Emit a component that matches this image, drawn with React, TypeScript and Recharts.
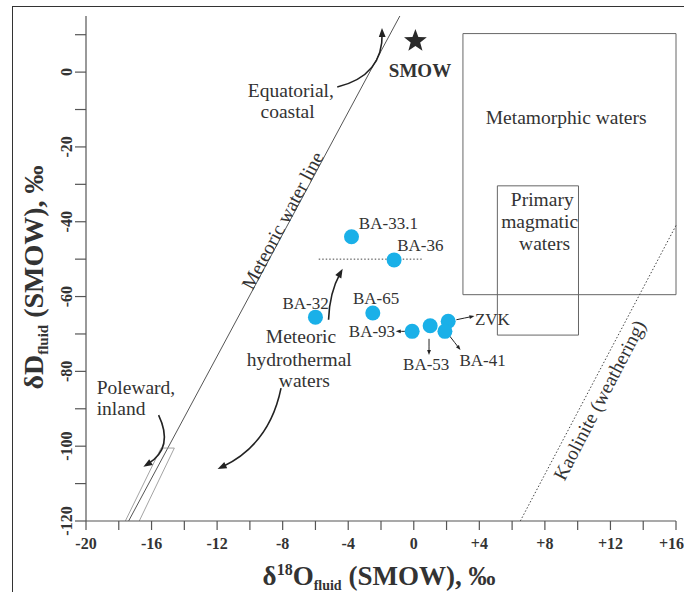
import React from "react";
import {
  ComposedChart, Scatter, XAxis, YAxis, ReferenceArea, ReferenceLine,
} from "recharts";

// axis ticks
const xTicks = [-20, -18, -16, -14, -12, -10, -8, -6, -4, -2, 0, 2, 4, 6, 8, 10, 12, 14, 16];
const yTicks = [-120, -110, -100, -90, -80, -70, -60, -50, -40, -30, -20, -10, 0, 10];

// fluid compositions (d18O, dD)
const samples = [
  { name: "BA-33.1", x: -3.8, y: -44 },
  { name: "BA-36", x: -1.2, y: -50.2 },
  { name: "BA-32", x: -6.0, y: -65.5 },
  { name: "BA-65", x: -2.5, y: -64.4 },
  { name: "BA-93", x: -0.1, y: -69.3 },
  { name: "BA-53", x: 1.0, y: -67.8 },
  { name: "ZVK", x: 2.1, y: -66.6 },
  { name: "BA-41", x: 1.9, y: -69.3 },
];
const smow = [{ x: 0.1, y: 8.3 }];

const sampleLabels = [
  { text: "BA-33.1", x: -1.55, y: -40.4 },
  { text: "BA-36", x: 0.4, y: -46.4 },
  { text: "BA-32", x: -6.6, y: -61.8 },
  { text: "BA-65", x: -2.3, y: -60.6 },
  { text: "BA-93", x: -2.55, y: -69.3 },
  { text: "ZVK", x: 4.8, y: -66.2 },
  { text: "BA-53", x: 0.76, y: -78.2 },
  { text: "BA-41", x: 4.2, y: -77.1 },
];
const areaLabels = [
  { text: "Equatorial,", x: -7.5, y: -4.8 },
  { text: "coastal", x: -7.7, y: -10.4 },
  { text: "Metamorphic waters", x: 9.3, y: -12.2 },
  { text: "Primary", x: 7.84, y: -34.1 },
  { text: "magmatic", x: 7.68, y: -40 },
  { text: "waters", x: 7.98, y: -45.7 },
  { text: "Meteoric", x: -6.88, y: -70.6 },
  { text: "hydrothermal", x: -6.99, y: -76.8 },
  { text: "waters", x: -6.68, y: -82.4 },
  { text: "Poleward,", x: -16.95, y: -84.3 },
  { text: "inland", x: -17.86, y: -89.8 },
];
const smowLabel = [{ text: "SMOW", x: 0.38, y: 0.3 }];
const lineLabels = [
  { text: "Meteoric water line", x: -8.0, y: -39.7 },
  { text: "Kaolinite (weathering)", x: 11.34, y: -87.7 },
];

// lines and fields
const meteoricLine = [{ x: -17.4, y: -120 }, { x: -0.85, y: 15 }];
const kaoliniteLine = [{ x: 6.5, y: -120 }, { x: 16, y: -41 }];
const mixLine = [{ x: -5.8, y: -50 }, { x: 0.6, y: -50 }];
const polewardField = [
  [{ x: -17.6, y: -120 }, { x: -15.42, y: -100.5 }],
  [{ x: -16.75, y: -120 }, { x: -14.61, y: -100.5 }],
  [{ x: -15.42, y: -100.5 }, { x: -14.61, y: -100.5 }],
];
const metamorphicBox = { x1: 3.0, x2: 16, y1: -59.5, y2: 10.3 };
const magmaticBox = { x1: 5.1, x2: 10.05, y1: -70.3, y2: -30.4 };

const arrows = [
  { x1: -4.67, y1: -4, x2: -1.94, y2: 11.8 },
  { x1: -15.57, y1: -91.7, x2: -16.5, y2: -105.5 },
  { x1: -8.1, y1: -84.5, x2: -11.97, y2: -106.1 },
  { x1: -5.2, y1: -66.2, x2: -4.34, y2: -52.6 },
  { x1: -0.5, y1: -69.3, x2: -1.1, y2: -69.3 },
  { x1: 0.93, y1: -71.3, x2: 0.93, y2: -75.6 },
  { x1: 2.6, y1: -66.2, x2: 3.7, y2: -65.2 },
  { x1: 2.2, y1: -70.6, x2: 2.85, y2: -74.3 },
];
const arrowBend = [0.4, -0.45, -0.25, -0.12, 0, 0, 0, 0];
const arrowHead = [9, 9, 9, 9, 5, 5, 5, 5];

const SERIF = "'Liberation Serif', 'Times New Roman', serif";
const INK = "#333";

function CurvedArrow(p: any) {
  const { x1, y1, x2, y2, bend, head } = p;
  const dx = x2 - x1, dy = y2 - y1;
  const len = Math.hypot(dx, dy) || 1;
  const cx = (x1 + x2) / 2 + (-dy / len) * bend * len;
  const cy = (y1 + y2) / 2 + (dx / len) * bend * len;
  const tx = x2 - cx, ty = y2 - cy;
  const tl = Math.hypot(tx, ty) || 1;
  const ux = tx / tl, uy = ty / tl;
  const bx = x2 - ux * head, by = y2 - uy * head;
  const w = head * 0.38;
  const stopX = x2 - ux * head * 0.6, stopY = y2 - uy * head * 0.6;
  return (
    <g>
      <path d={`M${x1},${y1} Q${cx},${cy} ${stopX},${stopY}`} fill="none" stroke="#222" strokeWidth={head > 6 ? 1.6 : 1} />
      <path d={`M${x2},${y2} L${bx - uy * w},${by + ux * w} L${bx + uy * w},${by - ux * w} Z`} fill="#222" />
    </g>
  );
}

const textShape = (size: number, weight: string, rot = 0) => (p: any) => (
  <text
    x={p.cx}
    y={p.cy}
    transform={rot ? `rotate(${rot} ${p.cx} ${p.cy})` : undefined}
    textAnchor="middle"
    dominantBaseline="central"
    fontFamily={SERIF}
    fontSize={size}
    fontWeight={weight}
    fill={INK}
  >
    {p.payload.text}
  </text>
);

const dotShape = (p: any) => <circle cx={p.cx} cy={p.cy} r={7.5} fill="#1ab0e8" />;

const starShape = (p: any) => {
  const pts: string[] = [];
  for (let i = 0; i < 10; i++) {
    const r = i % 2 === 0 ? 12 : 5;
    const a = -Math.PI / 2 + (i * Math.PI) / 5;
    pts.push(`${p.cx + r * Math.cos(a)},${p.cy + r * Math.sin(a)}`);
  }
  return <polygon points={pts.join(" ")} fill="#2a2a2a" />;
};

const YTick = (p: any) => {
  const v = p.payload.value;
  if (v % 20 !== 0) return <g />;
  const x = p.x - 1;
  return (
    <text x={x} y={p.y} transform={`rotate(-90 ${x} ${p.y})`} textAnchor="middle"
      fontFamily={SERIF} fontWeight="bold" fontSize={16} fill={INK}>
      {v}
    </text>
  );
};

const xFmt = (v: number) => (v % 4 !== 0 ? "" : v > 0 ? `+${v}` : `${v}`);

const XTitle = (p: any) => {
  const vb = p.viewBox;
  const cx = vb.x + vb.width / 2 - 2;
  return (
    <text x={cx} y={vb.y + 64} textAnchor="middle" fontFamily={SERIF} fontWeight="bold" fill={INK} fontSize={27}>
      δ<tspan fontSize={16} dy={-10}>18</tspan>
      <tspan dy={10}>O</tspan>
      <tspan fontSize={14} dy={5}>fluid</tspan>
      <tspan dy={-5}> (SMOW), ‰</tspan>
    </text>
  );
};

const YTitle = (p: any) => {
  const vb = p.viewBox;
  const x = vb.x + 13;
  const y = vb.y + vb.height / 2 + 9;
  return (
    <text x={x} y={y} transform={`rotate(-90 ${x} ${y})`} textAnchor="middle" fontFamily={SERIF}
      fontWeight="bold" fill={INK} fontSize={28}>
      δD<tspan fontSize={15} dy={5}>fluid</tspan>
      <tspan dy={-5}> (SMOW), ‰</tspan>
    </text>
  );
};

export default function App() {
  const axisColor = "#555";
  return (
    <div style={{ position: "absolute", left: 0, top: 0, width: 684, height: 592, overflow: "hidden", background: "#fff" }}>
      <div style={{ position: "absolute", left: 12, top: 6, width: 720, height: 640, border: "1.5px solid #333" }} />
      <div style={{ position: "absolute", left: 0, top: 0 }}>
        <ComposedChart width={684} height={592} margin={{ top: 16, right: 8, bottom: 31, left: 30 }}>
          <XAxis
            xAxisId={0} type="number" dataKey="x" domain={[-20, 16]} ticks={xTicks} allowDataOverflow
            tickFormatter={xFmt} tickSize={9} tickMargin={8} height={40}
            stroke={axisColor} strokeWidth={1.2}
            tick={{ fontFamily: SERIF, fontWeight: "bold", fontSize: 16, fill: INK }}
            label={{ content: XTitle }}
          />
          <XAxis
            xAxisId="top" orientation="top" type="number" domain={[-20, 16]} ticks={xTicks} allowDataOverflow
            mirror tick={false} tickSize={10} height={0} stroke={axisColor} strokeWidth={1.2}
          />
          <YAxis
            yAxisId={0} type="number" dataKey="y" domain={[-120, 15]} ticks={yTicks} allowDataOverflow
            tick={YTick} tickSize={11} tickMargin={2} width={56}
            stroke={axisColor} strokeWidth={1.2}
            label={{ content: YTitle }}
          />
          <YAxis
            yAxisId="right" orientation="right" type="number" domain={[-120, 15]} ticks={yTicks} allowDataOverflow
            mirror tick={false} tickSize={6} width={0} stroke={axisColor} strokeWidth={1.2}
          />

          <ReferenceArea {...metamorphicBox} fill="none" stroke="#666" strokeWidth={1} ifOverflow="visible" />
          <ReferenceArea {...magmaticBox} fill="none" stroke="#666" strokeWidth={1} ifOverflow="visible" />

          <ReferenceLine segment={meteoricLine} stroke="#555" strokeWidth={1} ifOverflow="visible" />
          <ReferenceLine segment={kaoliniteLine} stroke="#444" strokeWidth={1} strokeDasharray="1.5 2" ifOverflow="visible" />
          <ReferenceLine segment={mixLine} stroke="#444" strokeWidth={1} strokeDasharray="1.5 2" ifOverflow="visible" />
          {polewardField.map((s, i) => (
            <ReferenceLine key={`pf${i}`} segment={s} stroke="#999" strokeWidth={0.9} ifOverflow="visible" />
          ))}

          {arrows.map((a, i) => (
            <ReferenceLine
              key={`ar${i}`}
              segment={[{ x: a.x1, y: a.y1 }, { x: a.x2, y: a.y2 }]}
              ifOverflow="visible"
              shape={(p: any) => <CurvedArrow {...p} bend={arrowBend[i]} head={arrowHead[i]} />}
            />
          ))}

          <Scatter data={samples} shape={dotShape} isAnimationActive={false} />
          <Scatter data={smow} shape={starShape} isAnimationActive={false} />
          <Scatter data={sampleLabels} shape={textShape(17, "normal")} isAnimationActive={false} />
          <Scatter data={areaLabels} shape={textShape(19.5, "normal")} isAnimationActive={false} />
          <Scatter data={smowLabel} shape={textShape(19, "bold")} isAnimationActive={false} />
          <Scatter data={lineLabels.slice(0, 1)} shape={textShape(19.5, "normal", -62)} isAnimationActive={false} />
          <Scatter data={lineLabels.slice(1)} shape={textShape(19.5, "normal", -62.5)} isAnimationActive={false} />
        </ComposedChart>
      </div>
    </div>
  );
}
